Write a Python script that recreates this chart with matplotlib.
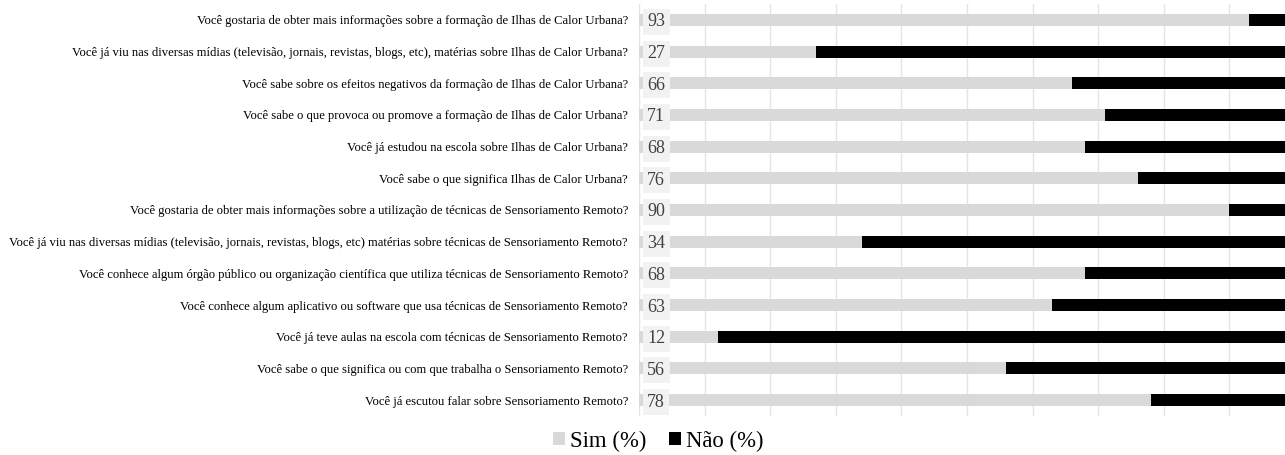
import matplotlib
matplotlib.use("Agg")
import matplotlib.pyplot as plt
from matplotlib.patches import Patch

plt.rcParams['font.family'] = ['Liberation Serif', 'DejaVu Serif']

questions = [
    "Você gostaria de obter mais informações sobre a formação de Ilhas de Calor Urbana?",
    "Você já viu nas diversas mídias (televisão, jornais, revistas, blogs, etc), matérias sobre Ilhas de Calor Urbana?",
    "Você sabe sobre os efeitos negativos da formação de Ilhas de Calor Urbana?",
    "Você sabe o que provoca ou promove a formação de Ilhas de Calor Urbana?",
    "Você já estudou na escola sobre Ilhas de Calor Urbana?",
    "Você sabe o que significa Ilhas de Calor Urbana?",
    "Você gostaria de obter mais informações sobre a utilização de técnicas de Sensoriamento Remoto?",
    "Você já viu nas diversas mídias (televisão, jornais, revistas, blogs, etc) matérias sobre técnicas de Sensoriamento Remoto?",
    "Você conhece algum órgão público ou organização científica que utiliza técnicas de Sensoriamento Remoto?",
    "Você conhece algum aplicativo ou software que usa técnicas de Sensoriamento Remoto?",
    "Você já teve aulas na escola com técnicas de Sensoriamento Remoto?",
    "Você sabe o que significa ou com que trabalha o Sensoriamento Remoto?",
    "Você já escutou falar sobre Sensoriamento Remoto?",
]
sim = [93, 27, 66, 71, 68, 76, 90, 34, 68, 63, 12, 56, 78]
nao = [100 - v for v in sim]

fig = plt.figure(figsize=(12.85, 4.55), dpi=100)
ax = fig.add_axes([639 / 1285, 1 - 416 / 455, (1295 - 639) / 1285, 412 / 455])

ypos = list(range(len(questions)))
sim_color = "#d9d9d9"
nao_color = "#000000"

ax.barh(ypos, sim, height=0.38, color=sim_color, zorder=2)
ax.barh(ypos, nao, left=sim, height=0.38, color=nao_color, zorder=2)

for y, v in zip(ypos, sim):
    ax.text(1.25, y, str(v), va="center_baseline", ha="left", fontsize=13, color="#404040",
            zorder=4,
            bbox=dict(boxstyle="square,pad=0.25", facecolor="#f2f2f2", edgecolor="none"))

ax.set_xlim(0, 100)
ax.set_ylim(len(questions) - 0.5, -0.5)
ax.set_yticks(ypos)
ax.set_yticklabels(questions, fontsize=9.05)
ax.tick_params(axis="y", length=0, pad=8)
ax.set_xticks(range(0, 101, 10))
ax.tick_params(axis="x", length=0, labelbottom=False)
ax.grid(axis="x", color="#e4e4e4", linewidth=1, zorder=0)
ax.set_axisbelow(True)
for s in ax.spines.values():
    s.set_visible(False)

handles = [Patch(facecolor=sim_color, label="Sim (%)"),
           Patch(facecolor=nao_color, label="Não (%)")]
fig.legend(handles=handles, loc="center", bbox_to_anchor=(658 / 1285, 1 - 441 / 455), ncol=2,
           frameon=False, fontsize=16.4, handlelength=0.55, handleheight=0.55,
           handletextpad=0.2, columnspacing=1.0)

fig.savefig("out.png", dpi=100)
